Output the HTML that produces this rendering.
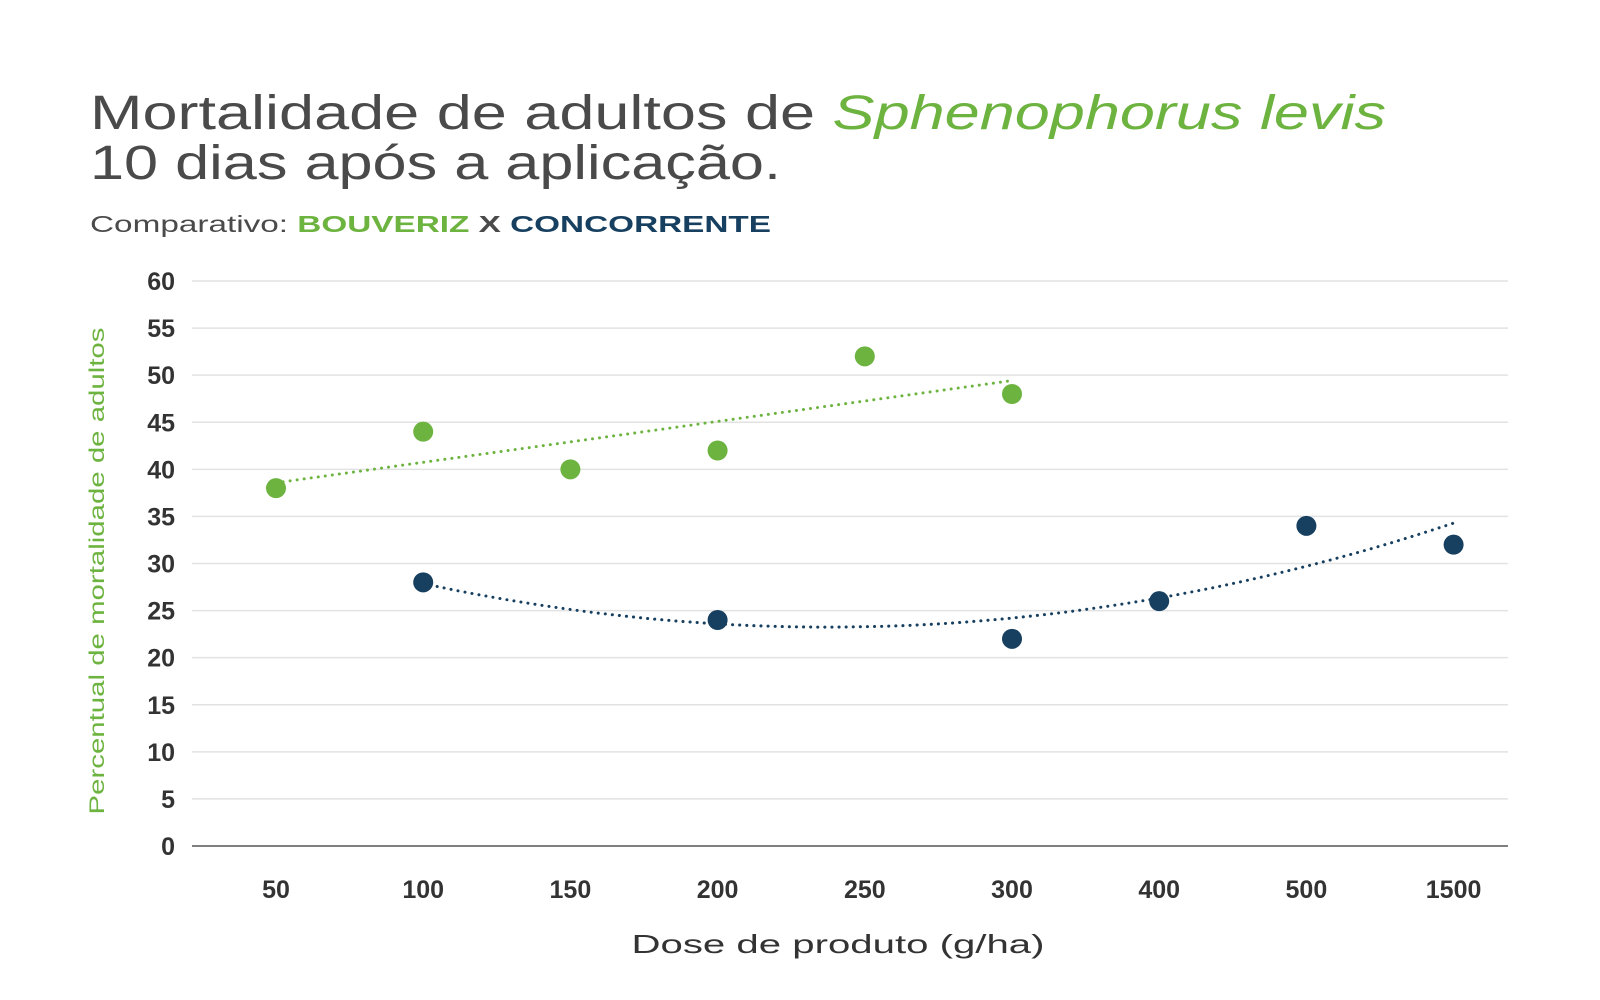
<!DOCTYPE html>
<html><head><meta charset="utf-8"><style>body{margin:0;background:#fff}svg{display:block}</style></head>
<body>
<svg width="1600" height="1000" xmlns="http://www.w3.org/2000/svg" font-family="Liberation Sans, sans-serif">
<g id="root"></g>
<text x="90" y="129" font-size="48" fill="#4a4a4a" textLength="1296" lengthAdjust="spacingAndGlyphs">Mortalidade de adultos de <tspan fill="#6db33f" font-style="italic">Sphenophorus levis</tspan></text>
<text x="90" y="179" font-size="48" fill="#4a4a4a" textLength="691" lengthAdjust="spacingAndGlyphs">10 dias após a aplicação.</text>
<text x="90" y="232" font-size="23" fill="#4a4a4a" textLength="681" lengthAdjust="spacingAndGlyphs">Comparativo: <tspan fill="#6db33f" font-weight="bold">BOUVERIZ</tspan> <tspan fill="#4a4a4a" font-weight="bold">X</tspan> <tspan fill="#173f5f" font-weight="bold">CONCORRENTE</tspan></text>
<text x="838" y="953" font-size="26" fill="#333" text-anchor="middle" textLength="413" lengthAdjust="spacingAndGlyphs">Dose de produto (g/ha)</text>
<text transform="translate(104,571) rotate(-90)" font-size="21" fill="#6db33f" text-anchor="middle" textLength="487" lengthAdjust="spacingAndGlyphs">Percentual de mortalidade de adultos</text>
</svg>
<script>
const categories=["50","100","150","200","250","300","400","500","1500"];
const bouverizIdx=[0,1,2,3,4,5];
const bouverizVals=[38,44,40,42,52,48];
const concIdx=[1,3,5,6,7,8];
const concVals=[28,24,22,26,34,32];
const yTicks=[0,5,10,15,20,25,30,35,40,45,50,55,60];
const NS="http://www.w3.org/2000/svg";
const root=document.getElementById('root');
const X=i=>276+i*147.2;
const Y=v=>846-v*(565/60);
function mk(t,a){const e=document.createElementNS(NS,t);for(const k in a)e.setAttribute(k,a[k]);root.appendChild(e);return e;}
yTicks.forEach(t=>{
 if(t>0){const g=mk('line',{x1:192,x2:1508,y1:Y(t),y2:Y(t),stroke:'#e2e2e2','stroke-width':1.5});
 
 }
 const l=mk('text',{x:175,y:Y(t)+9,'font-size':25,fill:'#333','text-anchor':'end','font-weight':'bold'});
 l.textContent=t;
 
 
});
const ax=mk('line',{x1:192,x2:1508,y1:846,y2:846,stroke:'#555','stroke-width':1.5});


categories.forEach((c,i)=>{
 const l=mk('text',{x:X(i),y:898,'font-size':25,fill:'#333','text-anchor':'middle','font-weight':'bold'});
 l.textContent=c;
 
 
});
// linear fit
function linfit(xs,ys){const n=xs.length,mx=xs.reduce((a,b)=>a+b)/n,my=ys.reduce((a,b)=>a+b)/n;let sxy=0,sxx=0;xs.forEach((x,i)=>{sxy+=(x-mx)*(ys[i]-my);sxx+=(x-mx)**2});const b=sxy/sxx;return x=>my+b*(x-mx);}
function quadfit(xs,ys){let S=[0,0,0,0,0],T=[0,0,0];xs.forEach((x,i)=>{for(let k=0;k<5;k++)S[k]+=x**k;for(let k=0;k<3;k++)T[k]+=ys[i]*x**k;});
 const A=[[S[0],S[1],S[2],T[0]],[S[1],S[2],S[3],T[1]],[S[2],S[3],S[4],T[2]]];
 for(let i=0;i<3;i++){for(let j=i+1;j<3;j++){const f=A[j][i]/A[i][i];for(let k=i;k<4;k++)A[j][k]-=f*A[i][k];}}
 const c=[0,0,0];for(let i=2;i>=0;i--){let s=A[i][3];for(let k=i+1;k<3;k++)s-=A[i][k]*c[k];c[i]=s/A[i][i];}
 return x=>c[0]+c[1]*x+c[2]*x*x;}
function trend(f,x0,x1,col,name){let d='';for(let s=0;s<=60;s++){const x=x0+(x1-x0)*s/60;d+=(s?'L':'M')+X(x).toFixed(1)+','+Y(f(x)).toFixed(1);}
 const p=mk('path',{d:d,fill:'none',stroke:col,'stroke-width':3,'stroke-dasharray':'0.1 7','stroke-linecap':'round'});
 
 }
trend(linfit(bouverizIdx,bouverizVals),bouverizIdx[0],bouverizIdx[bouverizIdx.length-1],'#6db33f','bouveriz-trendline');
trend(quadfit(concIdx,concVals),concIdx[0],concIdx[concIdx.length-1],'#173f5f','concorrente-trendline');
bouverizVals.forEach((v,i)=>{const c=mk('circle',{cx:X(bouverizIdx[i]),cy:Y(v),r:10,fill:'#6db33f'});
 
 });
concVals.forEach((v,i)=>{const c=mk('circle',{cx:X(concIdx[i]),cy:Y(v),r:10,fill:'#173f5f'});
 
 });
</script>
</body></html>
